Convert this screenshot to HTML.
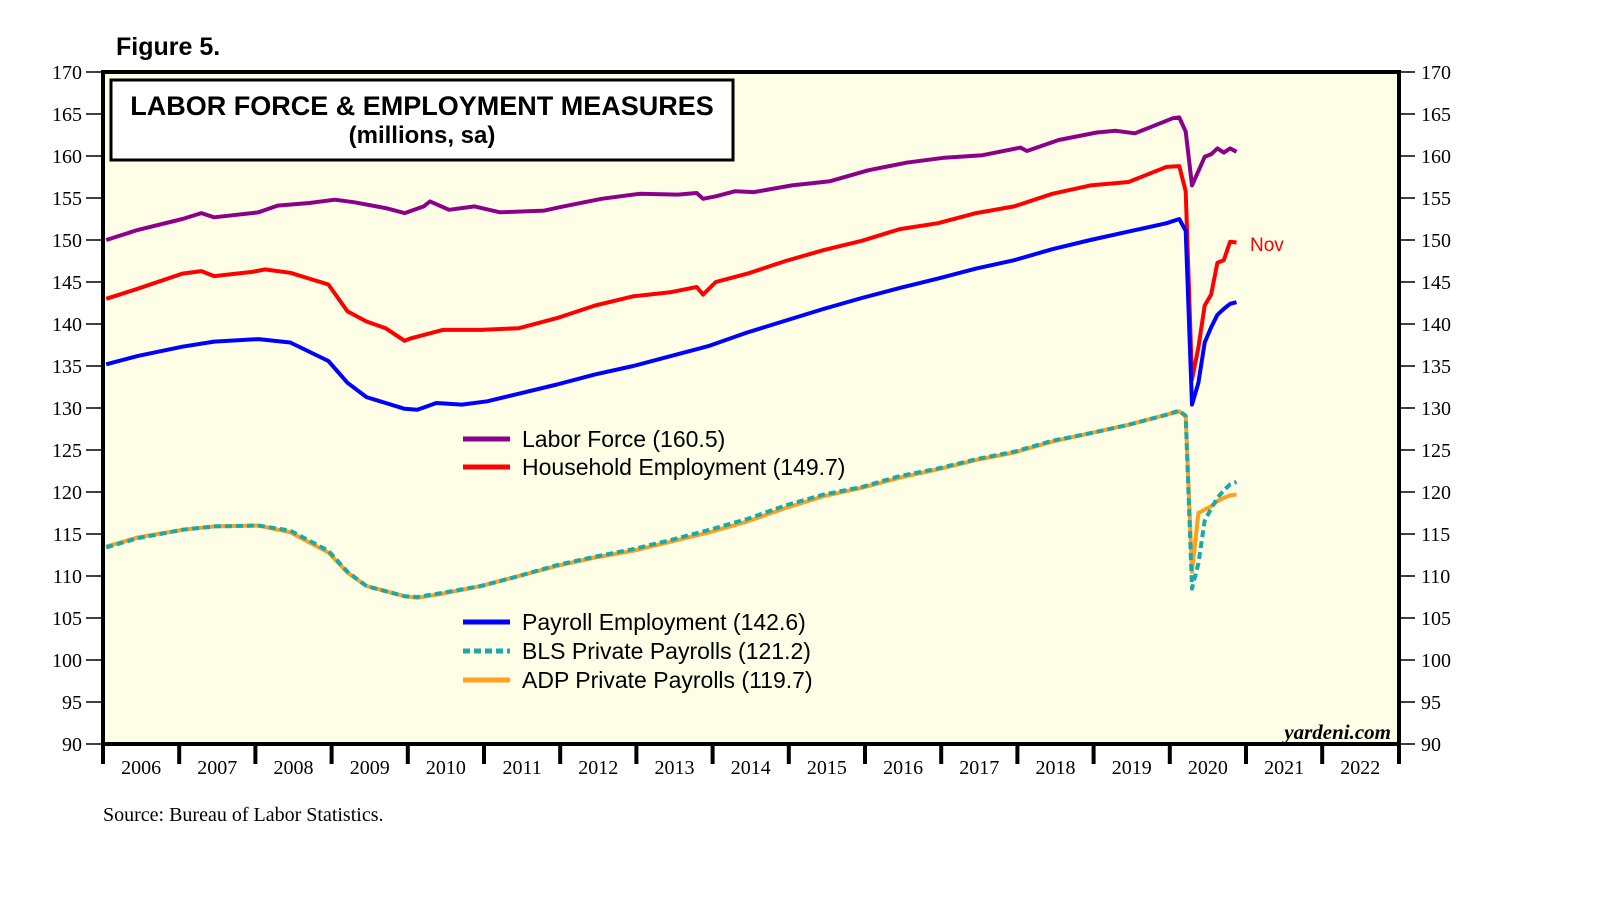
<!DOCTYPE html>
<html><head><meta charset="utf-8"><style>
body{margin:0;background:#fff;width:1610px;height:910px;overflow:hidden}
svg{display:block}
text{font-family:"Liberation Serif",serif}
</style></head><body>
<svg id="chart" width="1610" height="910">
<text x="116" y="55" font-weight="bold" font-size="25" style="font-family:'Liberation Sans',sans-serif">Figure 5.</text>
<rect x="103" y="72" width="1296" height="672" fill="#fefee6"/>
<g id="series"></g>
<rect x="103" y="72" width="1296" height="672" fill="none" stroke="#000" stroke-width="4"/>
<g id="axes"></g>
<rect x="111" y="80" width="622" height="80" fill="#fff" stroke="#000" stroke-width="3"/>
<text x="422" y="115" text-anchor="middle" font-weight="bold" font-size="27" style="font-family:'Liberation Sans',sans-serif">LABOR FORCE &amp; EMPLOYMENT MEASURES</text>
<text x="422" y="143" text-anchor="middle" font-weight="bold" font-size="24" style="font-family:'Liberation Sans',sans-serif">(millions, sa)</text>
<g font-size="23">
<line x1="463" y1="439" x2="510" y2="439" stroke="#8b008b" stroke-width="5"/>
<text x="522" y="447" style="font-family:'Liberation Sans',sans-serif">Labor Force (160.5)</text>
<line x1="463" y1="467" x2="510" y2="467" stroke="#ff0000" stroke-width="5"/>
<text x="522" y="475" style="font-family:'Liberation Sans',sans-serif">Household Employment (149.7)</text>
<line x1="463" y1="622" x2="510" y2="622" stroke="#0000ff" stroke-width="5"/>
<text x="522" y="630" style="font-family:'Liberation Sans',sans-serif">Payroll Employment (142.6)</text>
<line x1="463" y1="651" x2="510" y2="651" stroke="#1aa9a9" stroke-width="5" stroke-dasharray="7,4"/>
<text x="522" y="659" style="font-family:'Liberation Sans',sans-serif">BLS Private Payrolls (121.2)</text>
<line x1="463" y1="680" x2="510" y2="680" stroke="#ffa020" stroke-width="5"/>
<text x="522" y="688" style="font-family:'Liberation Sans',sans-serif">ADP Private Payrolls (119.7)</text>
</g>
<text x="1250" y="251" fill="#ff0000" font-size="19" style="font-family:'Liberation Sans',sans-serif">Nov</text>
<text x="1391" y="739" text-anchor="end" font-size="21" font-weight="bold" font-style="italic">yardeni.com</text>
<text x="103" y="821" font-size="20">Source: Bureau of Labor Statistics.</text>
</svg>
<script>
const laborDates=["2006-01","2006-06","2007-01","2007-04","2007-06","2008-01","2008-04","2008-09","2009-01","2009-04","2009-09","2009-12","2010-03","2010-04","2010-07","2010-11","2011-03","2011-10","2012-01","2012-07","2013-01","2013-07","2013-10","2013-11","2014-01","2014-04","2014-07","2015-01","2015-07","2016-01","2016-07","2017-01","2017-07","2018-01","2018-02","2018-07","2019-01","2019-04","2019-07","2020-01","2020-02","2020-03","2020-04","2020-05","2020-06","2020-07","2020-08","2020-09","2020-10","2020-11"];
const laborVals=[150.0,151.2,152.5,153.2,152.7,153.3,154.1,154.4,154.8,154.5,153.8,153.2,154.0,154.6,153.6,154.0,153.3,153.5,154.0,154.9,155.5,155.4,155.6,154.9,155.2,155.8,155.7,156.5,157.0,158.3,159.2,159.8,160.1,161.0,160.6,161.9,162.8,163.0,162.7,164.5,164.6,162.9,156.5,158.2,159.9,160.2,160.9,160.4,160.9,160.5];
const hhDates=["2006-01","2006-06","2007-01","2007-04","2007-06","2007-12","2008-02","2008-06","2008-12","2009-03","2009-06","2009-09","2009-12","2010-01","2010-06","2010-12","2011-06","2011-12","2012-06","2012-12","2013-06","2013-10","2013-11","2014-01","2014-06","2014-12","2015-06","2015-12","2016-06","2016-12","2017-06","2017-12","2018-06","2018-12","2019-06","2019-12","2020-02","2020-03","2020-04","2020-05","2020-06","2020-07","2020-08","2020-09","2020-10","2020-11"];
const hhVals=[143.0,144.2,146.0,146.3,145.7,146.2,146.5,146.1,144.7,141.5,140.3,139.5,138.0,138.3,139.3,139.3,139.5,140.7,142.2,143.3,143.8,144.4,143.5,145.0,146.0,147.5,148.8,149.9,151.3,152.0,153.2,154.0,155.5,156.5,156.9,158.7,158.8,155.8,133.4,137.2,142.2,143.5,147.3,147.6,149.8,149.7];
const payDates=["2006-01","2006-06","2007-01","2007-06","2008-01","2008-06","2008-12","2009-03","2009-06","2009-12","2010-02","2010-05","2010-09","2011-01","2011-06","2011-12","2012-06","2012-12","2013-06","2013-12","2014-06","2014-12","2015-06","2015-12","2016-06","2016-12","2017-06","2017-12","2018-06","2018-12","2019-06","2019-12","2020-02","2020-03","2020-04","2020-05","2020-06","2020-07","2020-08","2020-09","2020-10","2020-11"];
const payVals=[135.2,136.2,137.3,137.9,138.2,137.8,135.6,133.0,131.3,129.9,129.8,130.6,130.4,130.8,131.7,132.8,134.0,135.0,136.2,137.4,139.0,140.4,141.8,143.1,144.3,145.4,146.6,147.6,148.9,150.0,151.0,152.0,152.5,151.1,130.4,133.0,137.8,139.6,141.1,141.8,142.4,142.6];
const privDates=["2006-01","2006-06","2007-01","2007-06","2008-01","2008-06","2008-12","2009-03","2009-06","2009-12","2010-02","2010-06","2010-12","2011-06","2011-12","2012-06","2012-12","2013-06","2013-12","2014-06","2014-12","2015-06","2015-12","2016-06","2016-12","2017-06","2017-12","2018-06","2018-12","2019-06","2019-12","2020-02","2020-03","2020-04","2020-05","2020-06","2020-07","2020-08","2020-09","2020-10","2020-11"];
const blsVals=[113.4,114.5,115.5,115.9,116.0,115.4,113.0,110.5,108.8,107.6,107.5,108.0,108.8,110.0,111.3,112.3,113.2,114.3,115.5,116.8,118.4,119.7,120.6,121.9,122.8,123.9,124.8,126.1,127.0,128.0,129.2,129.7,129.0,108.5,111.5,116.6,118.0,119.3,120.2,120.9,121.2];
const adpVals=[113.5,114.6,115.5,115.9,116.0,115.2,112.8,110.4,108.8,107.6,107.4,107.9,108.8,110.0,111.2,112.2,113.0,114.1,115.2,116.5,118.1,119.5,120.5,121.7,122.7,123.8,124.7,126.0,127.0,128.0,129.2,129.6,129.1,110.5,117.5,117.9,118.3,118.9,119.3,119.6,119.7];
const yTicks=[90,95,100,105,110,115,120,125,130,135,140,145,150,155,160,165,170];
const yearLabels=["2006","2007","2008","2009","2010","2011","2012","2013","2014","2015","2016","2017","2018","2019","2020","2021","2022"];

const NS="http://www.w3.org/2000/svg";
const X0=103,YW=76.2,Y0=744,PU=8.4;
function xs(d){const p=d.split("-");return X0+(+p[0]-2006+(+p[1]-0.5)/12)*YW;}
function ys(v){return Y0-(v-90)*PU;}
function mk(tag,attrs,parent){const e=document.createElementNS(NS,tag);for(const k in attrs)e.setAttribute(k,attrs[k]);parent.appendChild(e);return e;}
const sg=document.getElementById("series");
function line(dates,vals,color,dash,name){
  const pts=dates.map((d,i)=>xs(d).toFixed(1)+","+ys(vals[i]).toFixed(1)).join(" ");
  const a={points:pts,fill:"none",stroke:color,"stroke-width":4,"stroke-linejoin":"round"};
  if(dash)a["stroke-dasharray"]=dash;
  const e=mk("polyline",a,sg);
  
  
}
line(laborDates,laborVals,"#8b008b",null,"labor-force-line");
line(hhDates,hhVals,"#ff0000",null,"household-employment-line");
line(payDates,payVals,"#0000ff",null,"payroll-employment-line");
line(privDates,adpVals,"#ffa020",null,"adp-private-payrolls-line");
line(privDates,blsVals,"#1aa9a9","7,4","bls-private-payrolls-line");

const ag=document.getElementById("axes");
yTicks.forEach(v=>{
  const y=ys(v);
  const t1=mk("line",{x1:86,x2:103,y1:y,y2:y,stroke:"#000","stroke-width":1.5},ag);
  
  
  const l1=mk("text",{x:82,y:y+7,"text-anchor":"end","font-size":20},ag);
  l1.textContent=v;
  
  
  const t2=mk("line",{x1:1399,x2:1415,y1:y,y2:y,stroke:"#000","stroke-width":1.5},ag);
  
  
  const l2=mk("text",{x:1421,y:y+7,"font-size":20},ag);
  l2.textContent=v;
  
  
});
yearLabels.forEach((yr,i)=>{
  const x=X0+i*YW;
  const t=mk("line",{x1:x,x2:x,y1:744,y2:764,stroke:"#000","stroke-width":4},ag);
  
  
  const l=mk("text",{x:x+YW/2,y:774,"text-anchor":"middle","font-size":20},ag);
  l.textContent=yr;
  
  
});
const te=mk("line",{x1:1399,x2:1399,y1:744,y2:764,stroke:"#000","stroke-width":4},ag);


</script>
</body></html>
